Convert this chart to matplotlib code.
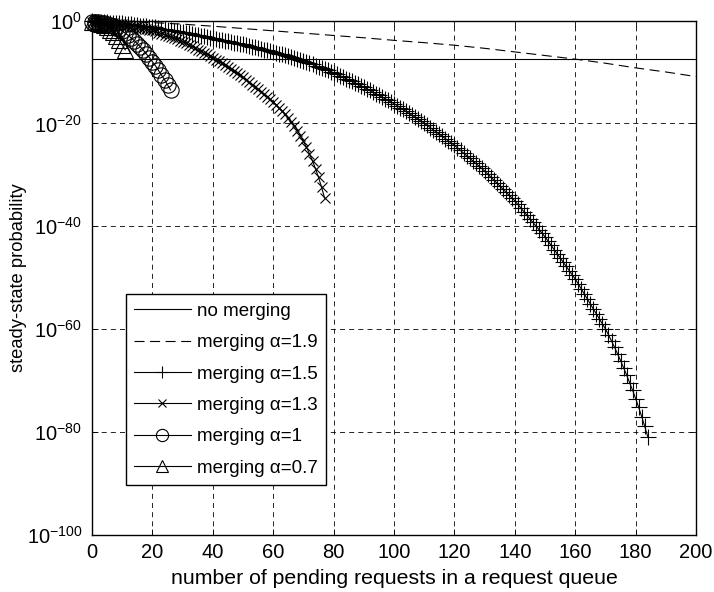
import numpy as np
import matplotlib
matplotlib.use("Agg")
import matplotlib.pyplot as plt

plt.rcParams['font.family'] = ['Liberation Sans', 'DejaVu Sans']
plt.rcParams['mathtext.fontset'] = 'custom'
plt.rcParams['mathtext.rm'] = 'Liberation Sans'
plt.rcParams['mathtext.default'] = 'regular'
plt.rcParams['axes.unicode_minus'] = False

# data: log10 of the steady-state probability, one value per queue length

# no merging (flat)
x_none = [0, 200]
lg_none = [-7.5, -7.5]

# merging alpha=1.9 (dashed, no markers), read every 10 requests
x_a19 = [0, 10, 20, 30, 40, 50, 60, 70, 80, 90, 100, 110, 120, 130, 140, 150, 160, 170, 180, 190, 200]
lg_a19 = [-0.1, -0.2, -0.4, -0.7, -1.1, -1.55, -2.0, -2.45, -2.9, -3.35, -3.85, -4.3, -4.8, -5.4,
          -6.1, -6.8, -7.5, -8.3, -9.2, -10.0, -10.9]

# merging alpha=1.5, n = 0..184
lg_a15 = [
    -0.15, -0.19, -0.23, -0.27, -0.31, -0.35, -0.39, -0.43, -0.47, -0.51,
    -0.55, -0.62, -0.69, -0.76, -0.83, -0.90, -0.97, -1.04, -1.11, -1.18,
    -1.25, -1.35, -1.45, -1.55, -1.65, -1.75, -1.85, -1.95, -2.05, -2.15,
    -2.25, -2.37, -2.49, -2.61, -2.73, -2.85, -2.97, -3.09, -3.21, -3.33,
    -3.45, -3.57, -3.69, -3.81, -3.93, -4.05, -4.17, -4.29, -4.41, -4.53,
    -4.65, -4.79, -4.93, -5.07, -5.21, -5.35, -5.49, -5.63, -5.77, -5.91,
    -6.05, -6.23, -6.41, -6.59, -6.77, -6.95, -7.13, -7.31, -7.49, -7.67,
    -7.85, -8.08, -8.31, -8.54, -8.77, -9.00, -9.23, -9.46, -9.69, -9.92,
    -10.15, -10.43, -10.71, -10.99, -11.27, -11.55, -11.83, -12.11, -12.39, -12.67,
    -12.95, -13.27, -13.59, -13.91, -14.23, -14.55, -14.87, -15.19, -15.51, -15.83,
    -16.15, -16.53, -16.91, -17.29, -17.67, -18.05, -18.43, -18.81, -19.19, -19.57,
    -19.95, -20.38, -20.81, -21.24, -21.67, -22.10, -22.53, -22.96, -23.39, -23.82,
    -24.25, -24.75, -25.25, -25.75, -26.25, -26.75, -27.25, -27.75, -28.25, -28.75,
    -29.25, -29.83, -30.41, -30.99, -31.57, -32.15, -32.73, -33.31, -33.89, -34.47,
    -35.05, -35.75, -36.45, -37.15, -37.85, -38.55, -39.25, -39.95, -40.65, -41.35,
    -42.05, -42.87, -43.69, -44.51, -45.33, -46.15, -46.97, -47.79, -48.61, -49.43,
    -50.25, -51.22, -52.19, -53.16, -54.13, -55.10, -56.07, -57.04, -58.01, -58.98,
    -59.95, -61.1, -62.3, -63.5, -64.8, -66.1, -67.5, -68.9, -70.4, -71.9,
    -73.5, -75.2, -77.0, -78.9, -80.9,
]

# merging alpha=1.3, n = 0..77
lg_a13 = [
    -0.2, -0.25, -0.3, -0.35, -0.4, -0.45, -0.5, -0.55, -0.6, -0.65,
    -0.7, -0.82, -0.94, -1.06, -1.18, -1.3, -1.42, -1.54, -1.66, -1.78,
    -1.9, -2.12, -2.34, -2.56, -2.78, -3.0, -3.22, -3.44, -3.66, -3.88,
    -4.1, -4.41, -4.72, -5.03, -5.34, -5.65, -5.96, -6.27, -6.58, -6.89,
    -7.2, -7.58, -7.96, -8.34, -8.72, -9.1, -9.48, -9.86, -10.24, -10.62,
    -11.0, -11.48, -11.96, -12.44, -12.92, -13.4, -13.88, -14.36, -14.84, -15.32,
    -15.8, -16.4, -17.0, -17.6, -18.2, -18.9, -19.7, -20.5, -21.4, -22.4,
    -23.5, -24.6, -25.9, -27.3, -28.8, -30.5, -32.4, -34.5,
]

# merging alpha=1, n = 0..26
lg_a10 = [-0.25, -0.27, -0.32, -0.4, -0.5, -0.65, -0.85, -1.1, -1.4, -1.7,
          -2.05, -2.45, -2.9, -3.4, -3.9, -4.5, -5.1, -5.8, -6.5, -7.2,
          -8.0, -8.8, -9.7, -10.6, -11.5, -12.5, -13.5]

# merging alpha=0.7, n = 0..11
lg_a07 = [-0.3, -0.35, -0.5, -0.7, -0.95, -1.3, -1.75, -2.3, -3.0, -3.8, -4.7, -5.7]

fig = plt.figure(figsize=(7.14, 5.92), dpi=100)
ax = fig.add_axes([0.1289, 0.0963, 0.846, 0.869])

lw = 0.8
mew = 0.8
ax.plot(x_none, 10.0 ** np.array(lg_none), color='k', lw=lw, label='no merging')
ax.plot(x_a19, 10.0 ** np.array(lg_a19), color='k', lw=lw, linestyle=(0, (9, 5)),
        label='merging α=1.9')
ax.plot(np.arange(len(lg_a15)), 10.0 ** np.array(lg_a15), color='k', lw=lw,
        marker='+', ms=11, mew=mew, label='merging α=1.5', clip_on=False)
ax.plot(np.arange(len(lg_a13)), 10.0 ** np.array(lg_a13), color='k', lw=lw,
        marker='x', ms=7.5, mew=mew, label='merging α=1.3', clip_on=False)
ax.plot(np.arange(len(lg_a10)), 10.0 ** np.array(lg_a10), color='k', lw=lw,
        marker='o', ms=11, mew=mew, mfc='none', label='merging α=1', clip_on=False)
ax.plot(np.arange(len(lg_a07)), 10.0 ** np.array(lg_a07), color='k', lw=lw,
        marker='^', ms=11, mew=mew, mfc='none', label='merging α=0.7', clip_on=False)

ax.set_yscale('log')
ax.set_xlim(0, 200)
ax.set_ylim(1e-100, 1e0)
ax.set_xticks(np.arange(0, 201, 20))
ax.set_yticks([10.0 ** k for k in range(-100, 1, 20)])
ax.set_yticklabels(['$10^{%d}$' % k for k in range(-100, 1, 20)])
ax.minorticks_off()
ax.tick_params(direction='in', top=True, right=True, length=4, labelsize=14.5, width=0.6)
ax.tick_params(axis='x', pad=6)
ax.tick_params(axis='y', pad=7)
ax.grid(True, color='k', linestyle=(0, (6, 5)), lw=0.6)
for s in ax.spines.values():
    s.set_linewidth(1.0)

ax.set_xlabel('number of pending requests in a request queue', fontsize=15.3, labelpad=5)
ax.set_ylabel('steady-state probability', fontsize=13.2)
ax.yaxis.set_label_coords(-0.108, 0.5)

leg = ax.legend(loc='upper left', bbox_to_anchor=(0.056, 0.468), borderaxespad=0,
                fontsize=13.5, fancybox=False, framealpha=1, edgecolor='k',
                handlelength=3.0, handletextpad=0.35, labelspacing=0.76,
                borderpad=0.45, markerscale=0.8)
leg.get_frame().set_linewidth(1.0)

plt.savefig('out.png', dpi=100)
